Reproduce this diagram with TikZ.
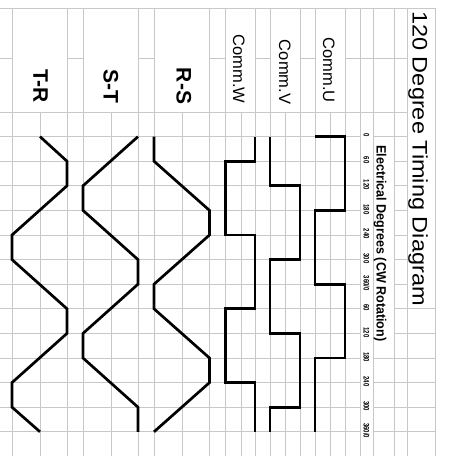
\documentclass[tikz,border=0pt]{standalone}
\usepackage{fontspec}
\setmainfont{Liberation Sans}
\definecolor{gridgray}{RGB}{200,200,200}
\begin{document}
\begin{tikzpicture}[x=1pt,y=-1pt,
  grid/.style={draw=gridgray, line width=0.9pt},
  wave/.style={draw=black, line width=2.7pt, line join=miter},
  lab/.style={inner sep=0pt, rotate=-90, anchor=base}]
\fill[white] (0,0) rectangle (450,456);
\useasboundingbox (0,0) rectangle (450,456);
% vertical grid lines
\foreach \x in {12,67,83,138,154,209.5,225.5,255,270,300,315,345,360,373,394,407,435}
  \draw[grid] (\x,8) -- (\x,456);
\foreach \x in {40,111,182,241,285,330}
  \draw[grid] (\x,112) -- (\x,456);
% horizontal grid lines
\draw[grid] (0,8) -- (435,8);
\foreach \a/\b in {0/12,67/83,138/154,209.5/225.5,255/270,300/315,345/407}
  \draw[grid] (\a,58) -- (\b,58);
\draw[grid] (0,112) -- (407,112);
\foreach \k in {0,...,12}{
  \pgfmathsetmacro\yy{136.6+24.6*\k}
  \draw[grid] (0,\yy) -- (360,\yy);
  \draw[grid] (394,\yy) -- (407,\yy);
}
\foreach \k in {0,9,10,11,12}{
  \pgfmathsetmacro\yy{136.6+24.6*\k}
  \draw[grid] (373,\yy) -- (394,\yy);
}
\foreach \k in {7,...,12}{
  \pgfmathsetmacro\yy{136.6+24.6*\k}
  \draw[grid] (407,\yy) -- (435,\yy);
}
% waveforms
\begin{scope}[yshift=-136.6pt, y=-24.6pt]
  \draw[wave] (315,0) -- (345,0) -- (345,3) -- (315,3) -- (315,6) -- (345,6) -- (345,9) -- (315,9) -- (315,12);
  \draw[wave] (270,0) -- (270,2) -- (300,2) -- (300,5) -- (270,5) -- (270,8) -- (300,8) -- (300,11) -- (270,11) -- (270,12);
  \draw[wave] (255,0) -- (255,1) -- (225.5,1) -- (225.5,4) -- (255,4) -- (255,7) -- (225.5,7) -- (225.5,10) -- (255,10) -- (255,12);
  \draw[wave] (154,0) -- (154,1) -- (209.5,3) -- (209.5,4) -- (154,6) -- (154,7) -- (209.5,9) -- (209.5,10) -- (154,12);
  \draw[wave] (138,0) -- (83,2) -- (83,3) -- (138,5) -- (138,6) -- (83,8) -- (83,9) -- (138,11) -- (138,12);
  \draw[wave] (40,0) -- (67,1) -- (67,2) -- (12,4) -- (12,5) -- (67,7) -- (67,8) -- (12,10) -- (12,11) -- (40,12);
\end{scope}
% texts
\node[lab, font=\fontsize{21}{21}\selectfont] (title) at (412.5,158.5) {\scalebox{1.12}[1]{120 Degree Timing Diagram}};
\node[lab, font=\fontsize{13.5}{13.5}\selectfont\bfseries] (elec) at (376.5,243.5) {\scalebox{0.93}[1]{Electrical Degrees (CW Rotation)}};
\node[lab, font=\fontsize{16.5}{16.5}\selectfont] (cu) at (323,70) {Comm.U};
\node[lab, font=\fontsize{16.5}{16.5}\selectfont] (cv) at (279,72) {Comm.V};
\node[lab, font=\fontsize{16.5}{16.5}\selectfont] (cw) at (233,69) {Comm.W};
\node[lab, font=\fontsize{21}{21}\selectfont\bfseries] (rs) at (176.5,86) {R-S};
\node[lab, font=\fontsize{21}{21}\selectfont\bfseries] (st) at (103.5,86) {S-T};
\node[lab, font=\fontsize{21}{21}\selectfont\bfseries] (tr) at (33.5,86) {T-R};
\foreach \t [count=\i from 0] in {0,60,120,180,240,300,360/0,60,120,180,240,300,360/0}{
  \pgfmathsetmacro\yy{135.6+24.6*\i}
  \node[lab, font=\fontsize{8}{8}\selectfont\bfseries] (deg\i) at (363.5,\yy) {\scalebox{0.75}[1]{\t}};
}
\end{tikzpicture}
\end{document}
